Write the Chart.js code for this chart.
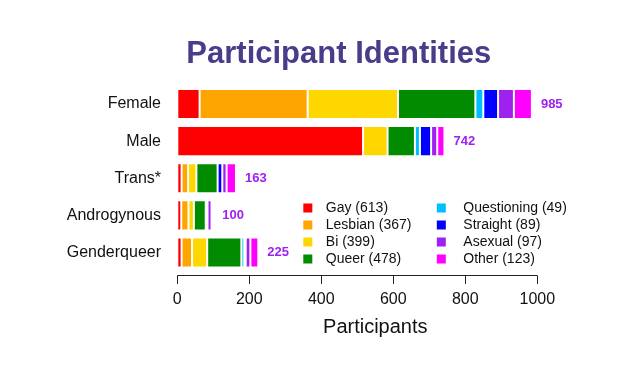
<!DOCTYPE html>
<html>
<head>
<meta charset="utf-8">
<script src="https://cdn.jsdelivr.net/npm/chart.js@4"></script>
<style>
  body { margin: 0; background: #fff; }
  #wrap { width: 639px; height: 373px; }
</style>
</head>
<body>
<div id="wrap"><canvas id="identityChart" width="639" height="373"></canvas></div>
<script>
// Categories (bars) and counts per identity
const categories = ['Female', 'Male', 'Trans*', 'Androgynous', 'Genderqueer'];
const gay         = [62, 516, 12, 11, 12];
const lesbian     = [300, 0, 18, 20, 29];
const bi          = [251, 68, 23, 15, 42];
const queer       = [215, 76, 59, 33, 95];
const questioning = [22, 14, 0, 5, 8];
const straight    = [41, 31, 13, 0, 4];
const asexual     = [44, 17, 12, 11, 13];
const other       = [50, 20, 26, 5, 22];
const xTicks      = [0, 200, 400, 600, 800, 1000];

const FONT = '"Liberation Sans", Arial, Helvetica, sans-serif';

const series = [
  { label: 'Gay', data: gay, color: '#FF0000' },
  { label: 'Lesbian', data: lesbian, color: '#FFA500' },
  { label: 'Bi', data: bi, color: '#FFD700' },
  { label: 'Queer', data: queer, color: '#008B00' },
  { label: 'Questioning', data: questioning, color: '#00BFFF' },
  { label: 'Straight', data: straight, color: '#0000FF' },
  { label: 'Asexual', data: asexual, color: '#A020F0' },
  { label: 'Other', data: other, color: '#FF00FF' }
];

// --- main title (drawn by hand so it can sit off-centre like the original) ---
const mainTitle = {
  id: 'mainTitle',
  afterDraw(chart) {
    const ctx = chart.ctx;
    ctx.save();
    ctx.font = 'bold 31px ' + FONT;
    ctx.fillStyle = '#483D8B';
    ctx.textAlign = 'center';
    ctx.textBaseline = 'alphabetic';
    ctx.fillText('Participant Identities', chart.chartArea.left + 161.5, chart.chartArea.top - 22.5);
    ctx.restore();
  }
};

// --- x axis drawn R-style: a line from first to last tick, a little below the bars ---
const axisLine = {
  id: 'axisLine',
  afterDraw(chart) {
    const xs = chart.scales.x;
    const ctx = chart.ctx;
    const y0 = Math.round(chart.chartArea.bottom + 4) + 0.5;
    ctx.save();
    ctx.strokeStyle = '#222';
    ctx.lineWidth = 1;
    ctx.beginPath();
    ctx.moveTo(xs.getPixelForValue(xTicks[0]), y0);
    ctx.lineTo(xs.getPixelForValue(xTicks[xTicks.length - 1]), y0);
    xTicks.forEach(v => {
      const px = Math.round(xs.getPixelForValue(v)) + 0.5;
      ctx.moveTo(px, y0);
      ctx.lineTo(px, y0 + 8.5);
    });
    ctx.stroke();
    ctx.restore();
  }
};

// --- totals at the end of every bar ---
const barTotals = {
  id: 'barTotals',
  afterDatasetsDraw(chart) {
    const ctx = chart.ctx;
    const xs = chart.scales.x;
    const meta = chart.getDatasetMeta(0);
    ctx.save();
    ctx.font = 'bold 13px ' + FONT;
    ctx.fillStyle = '#A020F0';
    ctx.textAlign = 'left';
    ctx.textBaseline = 'middle';
    categories.forEach((c, i) => {
      const total = series.reduce((s, d) => s + d.data[i], 0);
      ctx.fillText(String(total), xs.getPixelForValue(total) + 9, meta.data[i].y);
    });
    ctx.restore();
  }
};

// --- two-column legend inside the plot ---
const insideLegend = {
  id: 'insideLegend',
  afterDraw(chart) {
    const ctx = chart.ctx;
    const area = chart.chartArea;
    const colX = [area.left + 126, area.left + 259.5];
    const top = area.top + 122.5;
    const rowH = 17;
    ctx.save();
    ctx.font = '14px ' + FONT;
    ctx.textAlign = 'left';
    ctx.textBaseline = 'middle';
    series.forEach((s, i) => {
      const col = Math.floor(i / 4), row = i % 4;
      const x = colX[col], y = top + row * rowH;
      const total = s.data.reduce((a, b) => a + b, 0);
      ctx.fillStyle = s.color;
      ctx.fillRect(x, y - 4.5, 9, 9);
      ctx.fillStyle = '#111';
      ctx.fillText(s.label + ' (' + total + ')', x + (col ? 26.5 : 22.5), y);
    });
    ctx.restore();
  }
};

const ctx = document.getElementById('identityChart').getContext('2d');
const identityChart = new Chart(ctx, {
  type: 'bar',
  data: {
    labels: categories,
    datasets: series.map(s => ({
      label: s.label,
      data: s.data,
      backgroundColor: s.color,
      borderColor: 'rgba(255,255,255,0.75)',
      borderWidth: 1,
      borderSkipped: false,
      categoryPercentage: 0.81,
      barPercentage: 1.0
    }))
  },
  options: {
    indexAxis: 'y',
    responsive: false,
    animation: false,
    layout: { padding: { left: 60, right: 65.7, top: 85.5, bottom: 0 } },
    plugins: {
      legend: { display: false },
      tooltip: { enabled: false },
      title: { display: false }
    },
    scales: {
      x: {
        stacked: true,
        min: 0,
        max: 1100,
        grid: { display: false, drawTicks: false },
        border: { display: false },
        ticks: {
          stepSize: 200,
          includeBounds: false,
          padding: 18.9,
          color: '#111',
          font: { family: FONT, size: 16 },
          callback: v => String(v)
        },
        title: {
          display: true,
          text: 'Participants',
          color: '#111',
          font: { family: FONT, size: 20 },
          padding: { top: -12.6, bottom: 33.6 }
        }
      },
      y: {
        stacked: true,
        grid: { display: false, drawTicks: false },
        border: { display: false },
        ticks: {
          padding: 16.3,
          color: '#111',
          font: { family: FONT, size: 16 }
        },
        afterFit(scale) { scale.width = 117.3; }
      }
    }
  },
  plugins: [mainTitle, axisLine, barTotals, insideLegend]
});
</script>
</body>
</html>
